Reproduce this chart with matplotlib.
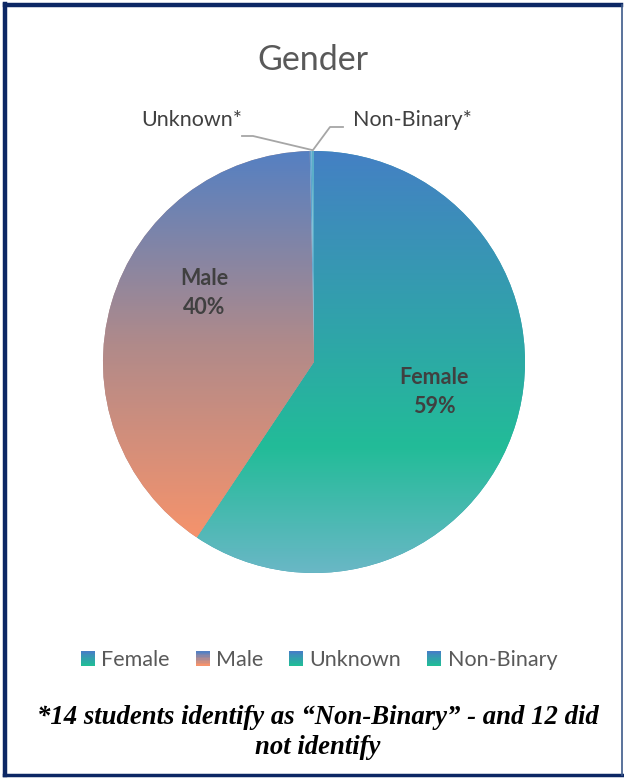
import numpy as np
import matplotlib.pyplot as plt
from matplotlib.colors import LinearSegmentedColormap
from matplotlib.patches import Rectangle, Patch
from matplotlib.legend_handler import HandlerBase

# figure size in pixels, everything below is placed in pixel coords (y measured from top)
W, H = 624, 778

labels = ['Female', 'Male', 'Unknown', 'Non-Binary']
counts = [4750, 3225, 12, 14]
pct_labels = ['59%', '40%']

# gradient stops (top -> bottom) for each slice
grad_female = [(0, '#4480c4'), (0.7, '#22bc98'), (1, '#6ab7c6')]
grad_male = [(0, '#5580c2'), (0.5, '#b08a8a'), (1, '#f5936c')]
legend_grads = [('#4480c4', '#22bc98'), ('#5580c2', '#f5936c'),
                ('#4480c4', '#22bc98'), ('#4480c4', '#22bc98')]


def py(y):
    return H - y


class GradHandler(HandlerBase):
    def __init__(self, c_top, c_bot):
        super().__init__()
        self.cmap = LinearSegmentedColormap.from_list('g', [c_top, c_bot])

    def create_artists(self, legend, orig_handle, xdescent, ydescent,
                       width, height, fontsize, trans):
        n = 10
        out = []
        for i in range(n):
            y0 = -ydescent + height * (n - 1 - i) / n
            out.append(Rectangle((-xdescent, y0), width, height / n + 0.05,
                                 facecolor=self.cmap(i / (n - 1)), edgecolor='none',
                                 transform=trans))
        return out


fig = plt.figure(figsize=(W / 100, H / 100), dpi=100)
ax = fig.add_axes([0, 0, 1, 1])

cx, cy, r = 314, 362, 211
wedges, _ = ax.pie(counts, startangle=90, counterclock=False,
                   center=(cx, py(cy)), radius=r,
                   colors=['#3aa0b0', '#b08a8a', '#5fa3cf', '#5aaec8'],
                   wedgeprops=dict(linewidth=0))

# gradient fills clipped to the big wedges
for w, stops, ybot in [(wedges[0], grad_female, 574), (wedges[1], grad_male, 537)]:
    cmap = LinearSegmentedColormap.from_list('s', stops)
    g = np.linspace(0, 1, 256).reshape(-1, 1)
    im = ax.imshow(g, extent=(cx - r, cx + r, py(ybot), py(cy - r)), origin='upper',
                   aspect='auto', cmap=cmap, zorder=w.get_zorder() + 0.1)
    im.set_clip_path(w)

ax.set_xlim(0, W)
ax.set_ylim(0, H)
ax.set_aspect('equal')
ax.axis('off')

ax.text(313, py(60), 'Gender', ha='center', va='center', fontsize=24.5,
        color='#595959', family='Lato')

ax.text(204, py(293), labels[1] + '\n' + pct_labels[1], ha='center', va='center',
        fontsize=15.5, fontweight='bold', color='#404040', family='Lato', linespacing=1.45)
ax.text(434, py(392), labels[0] + '\n' + pct_labels[0], ha='center', va='center',
        fontsize=15.5, fontweight='bold', color='#404040', family='Lato', linespacing=1.45)

# leader lines for the tiny slices
ax.plot([242, 253, 312], [py(136), py(136), py(150)], color='#a6a6a6', lw=1.3)
ax.plot([313, 330, 343], [py(150), py(127), py(127)], color='#a6a6a6', lw=1.3)
ax.text(191.5, py(120), 'Unknown*', ha='center', va='center', fontsize=15.5,
        color='#404040', family='Lato')
ax.text(412, py(120), 'Non-Binary*', ha='center', va='center', fontsize=15.5,
        color='#404040', family='Lato')

handles = [Patch(label=l) for l in labels]
hmap = {h: GradHandler(*c) for h, c in zip(handles, legend_grads)}
ax.legend(handles=handles, handler_map=hmap, loc='center', bbox_to_anchor=(319 / W, 1 - 660 / H),
          ncol=4, frameon=False, prop=dict(family='Lato', size=15.5),
          labelcolor='#595959', handlelength=0.65, handleheight=0.65,
          handletextpad=0.3, columnspacing=1.2)

ax.text(318, py(718), '*14 students identify as \u201cNon-Binary\u201d - and 12 did',
        ha='center', va='center', fontsize=19.3, fontweight='bold', style='italic',
        family='Liberation Serif', color='black')
ax.text(318, py(747), 'not identify',
        ha='center', va='center', fontsize=19.3, fontweight='bold', style='italic',
        family='Liberation Serif', color='black')

# frame around the chart
navy = '#0c2764'
fig.add_artist(plt.Line2D([5 / W, 621 / W], [1 - 5 / H, 1 - 5 / H], color=navy, lw=3.2))
fig.add_artist(plt.Line2D([5 / W, 5 / W], [1 - 4 / H, 1 - 775 / H], color=navy, lw=3.2))
fig.add_artist(plt.Line2D([4 / W, 622 / W], [1 - 775 / H, 1 - 775 / H], color=navy, lw=2.5))
fig.add_artist(plt.Line2D([621.5 / W, 621.5 / W], [1 - 5 / H, 1 - 775 / H], color='#3d5a8a', lw=1.2))

fig.savefig('out.png', dpi=100)
